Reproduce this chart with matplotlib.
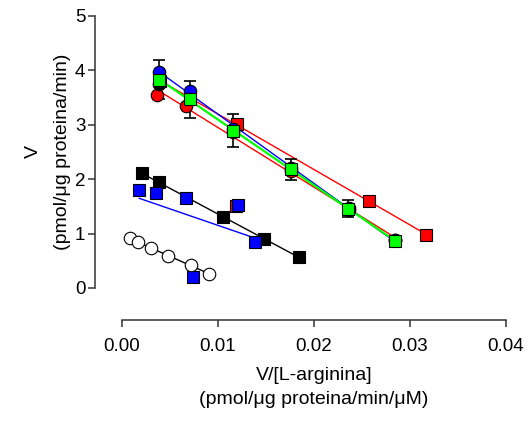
import numpy as np
import matplotlib
matplotlib.use("Agg")
from matplotlib import pyplot as plt

plt.rcParams['font.family'] = ['Liberation Sans', 'DejaVu Sans']

# upper group (Eadie-Hofstee, V vs V/[S])
blue_circ_x = [0.0039, 0.0071, 0.0116, 0.0176, 0.0236, 0.0284]
blue_circ_y = [3.97, 3.63, 2.92, 2.20, 1.47, 0.88]

green_sq_x = [0.00385, 0.00708, 0.0116, 0.01757, 0.02357, 0.02844]
green_sq_y = [3.83, 3.47, 2.89, 2.18, 1.46, 0.87]
green_sq_err = [0.36, 0.34, 0.30, 0.20, 0.15, 0.05]

black_circ_x = [0.00385]
black_circ_y = [3.75]

red_circ_x = [0.0036, 0.0067, 0.0116, 0.0176, 0.0236, 0.02844]
red_circ_y = [3.54, 3.35, 2.87, 2.15, 1.44, 0.89]

red_sq_x = [0.0040, 0.01195, 0.0257, 0.0317]
red_sq_y = [3.80, 3.01, 1.60, 0.98]

# lower group
red_sq2_x = [0.0119]
red_sq2_y = [1.50]

black_sq_x = [0.00205, 0.00389, 0.01056, 0.01483, 0.01847]
black_sq_y = [2.11, 1.94, 1.30, 0.90, 0.565]

blue_sq_x = [0.0018, 0.00354, 0.00663, 0.0121, 0.01385, 0.00736]
blue_sq_y = [1.81, 1.75, 1.66, 1.52, 0.85, 0.21]

open_circ_x = [0.00083, 0.0017, 0.0030, 0.00482, 0.00716, 0.0091]
open_circ_y = [0.91, 0.84, 0.74, 0.58, 0.42, 0.26]

x_ticks = [0.00, 0.01, 0.02, 0.03, 0.04]
y_ticks = [0, 1, 2, 3, 4, 5]

fig = plt.figure(figsize=(5.31, 4.21), dpi=100)
ax = fig.add_axes([122 / 531, 133 / 421, 384 / 531, 272 / 421])


def fit_line(x, y, color, lw=1.0):
    # linear regression drawn over the data range
    x = np.asarray(x)
    k, b = np.polyfit(x, y, 1)
    xs = np.array([x.min(), x.max()])
    ax.plot(xs, k * xs + b, color=color, lw=lw, zorder=2)


fit_line(red_sq_x, red_sq_y, 'red')
fit_line(red_circ_x, red_circ_y, 'red')
fit_line(blue_circ_x, blue_circ_y, 'blue')
fit_line(green_sq_x, green_sq_y, '#00ff00', lw=1.6)
fit_line(black_sq_x, black_sq_y, 'black')
fit_line(blue_sq_x, blue_sq_y, 'blue')
fit_line(open_circ_x, open_circ_y, 'black')

mk = dict(markeredgecolor='black', markeredgewidth=0.8, linestyle='none', clip_on=False, zorder=3)

ax.plot(red_sq_x, red_sq_y, 's', color='red', markersize=8.5, **mk)
ax.plot(red_circ_x, red_circ_y, 'o', color='red', markersize=9, **mk)
ax.plot(blue_circ_x, blue_circ_y, 'o', color='blue', markersize=9, **mk)
ax.plot(black_circ_x, black_circ_y, 'o', color='black', markersize=9, **mk)
ax.errorbar(green_sq_x, green_sq_y, yerr=green_sq_err, fmt='none', ecolor='black',
            elinewidth=1.2, capsize=4.5, capthick=1.2, zorder=2.5)
ax.plot(green_sq_x, green_sq_y, 's', color='#00ff00', markersize=8.5, **mk)

ax.plot(red_sq2_x, red_sq2_y, 's', color='red', markersize=8.5, **mk)
ax.plot(black_sq_x, black_sq_y, 's', color='black', markersize=8.5, **mk)
ax.plot(blue_sq_x, blue_sq_y, 's', color='blue', markersize=8.5, **mk)
ax.plot(open_circ_x, open_circ_y, 'o', color='white', markersize=9, **mk)

ax.set_xlim(0, 0.04)
ax.set_ylim(0, 5)
ax.set_xticks(x_ticks)
ax.set_xticklabels(['%.2f' % v for v in x_ticks])
ax.set_yticks(y_ticks)

for s in ['top', 'right']:
    ax.spines[s].set_visible(False)
ax.spines['left'].set_position(('outward', 19.4))
ax.spines['bottom'].set_position(('outward', 23))
for s in ['left', 'bottom']:
    ax.spines[s].set_color('#333333')
    ax.spines[s].set_linewidth(1.1)

ax.tick_params(direction='out', length=5, width=1.1, color='#333333', labelsize=13.5)
ax.tick_params(axis='x', pad=8)
ax.tick_params(axis='y', pad=2)

ax.set_xlabel('V/[L-arginina]\n(pmol/\u03bcg proteina/min/\u03bcM)', fontsize=14, linespacing=1.5, labelpad=9)
ax.set_ylabel('V\n(pmol/\u03bcg proteina/min)', fontsize=14, linespacing=1.9, labelpad=3)

fig.savefig('out.png', dpi=100)
